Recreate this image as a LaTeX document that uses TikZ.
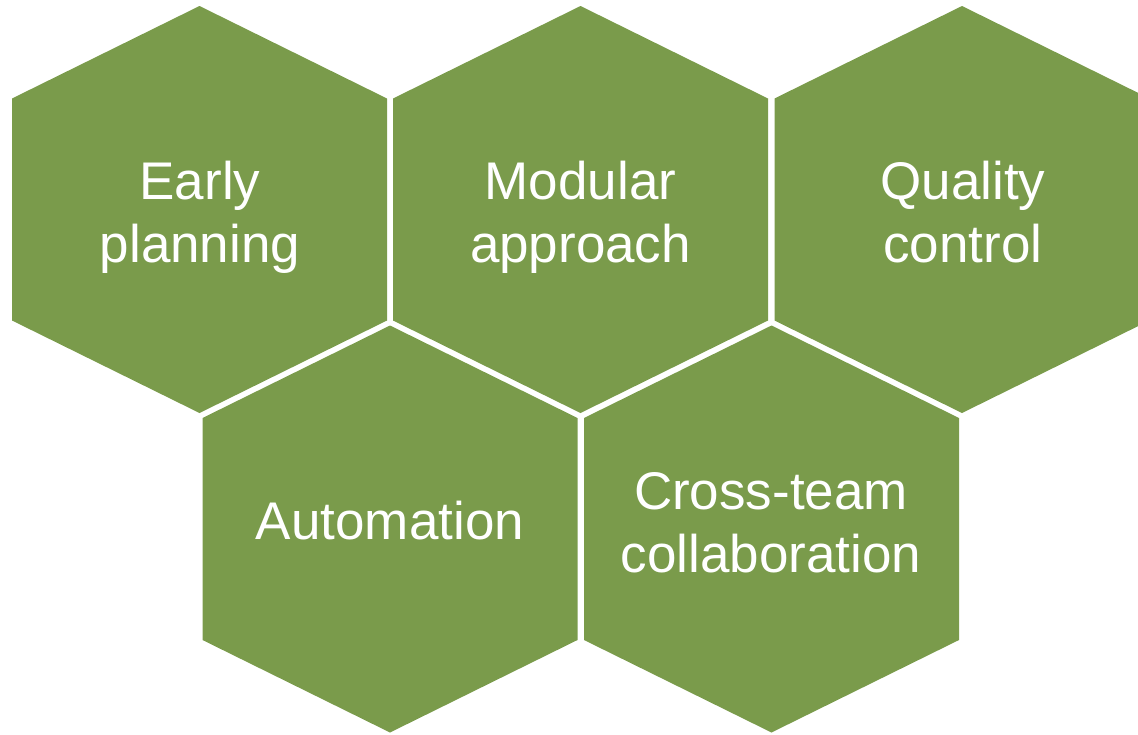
\documentclass[tikz,border=0pt]{standalone}
\usepackage{fontspec}
\setmainfont{Liberation Sans}
\definecolor{hexgreen}{RGB}{122,155,75}
\tikzset{
  hexfill/.style={fill=hexgreen},
  hexlabel/.style={text=white, align=center, font=\fontsize{53}{63.5}\selectfont, inner sep=0pt},
  hexa/.pic={\fill[hexfill] (0,-203.5) -- (187.5,-111) -- (187.5,111) -- (0,203.5) -- (-187.5,111) -- (-187.5,-111) -- cycle;}
}
\begin{document}
\begin{tikzpicture}[x=1pt,y=-1pt]
\useasboundingbox (0,0) rectangle (1138,734);
\clip (0,0) rectangle (1138,734);
\pic at (199.5,209.5) {hexa};
\pic at (580.5,209.5) {hexa};
\pic at (962,209.5) {hexa};
\pic at (390,529) {hexa};
\pic at (771.5,529) {hexa};
\node[hexlabel] (early) at (200,218.5) {\strut Early\\\strut planning};
\node[hexlabel] (modular) at (580.5,218.5) {\strut Modular\\\strut approach};
\node[hexlabel] (quality) at (963,218.5) {\strut Quality\\\strut control};
\node[hexlabel] (auto) at (390,526.5) {\strut Automation};
\node[hexlabel] (cross) at (771,528.5) {\strut Cross-team\\\strut collaboration};
\end{tikzpicture}
\end{document}
